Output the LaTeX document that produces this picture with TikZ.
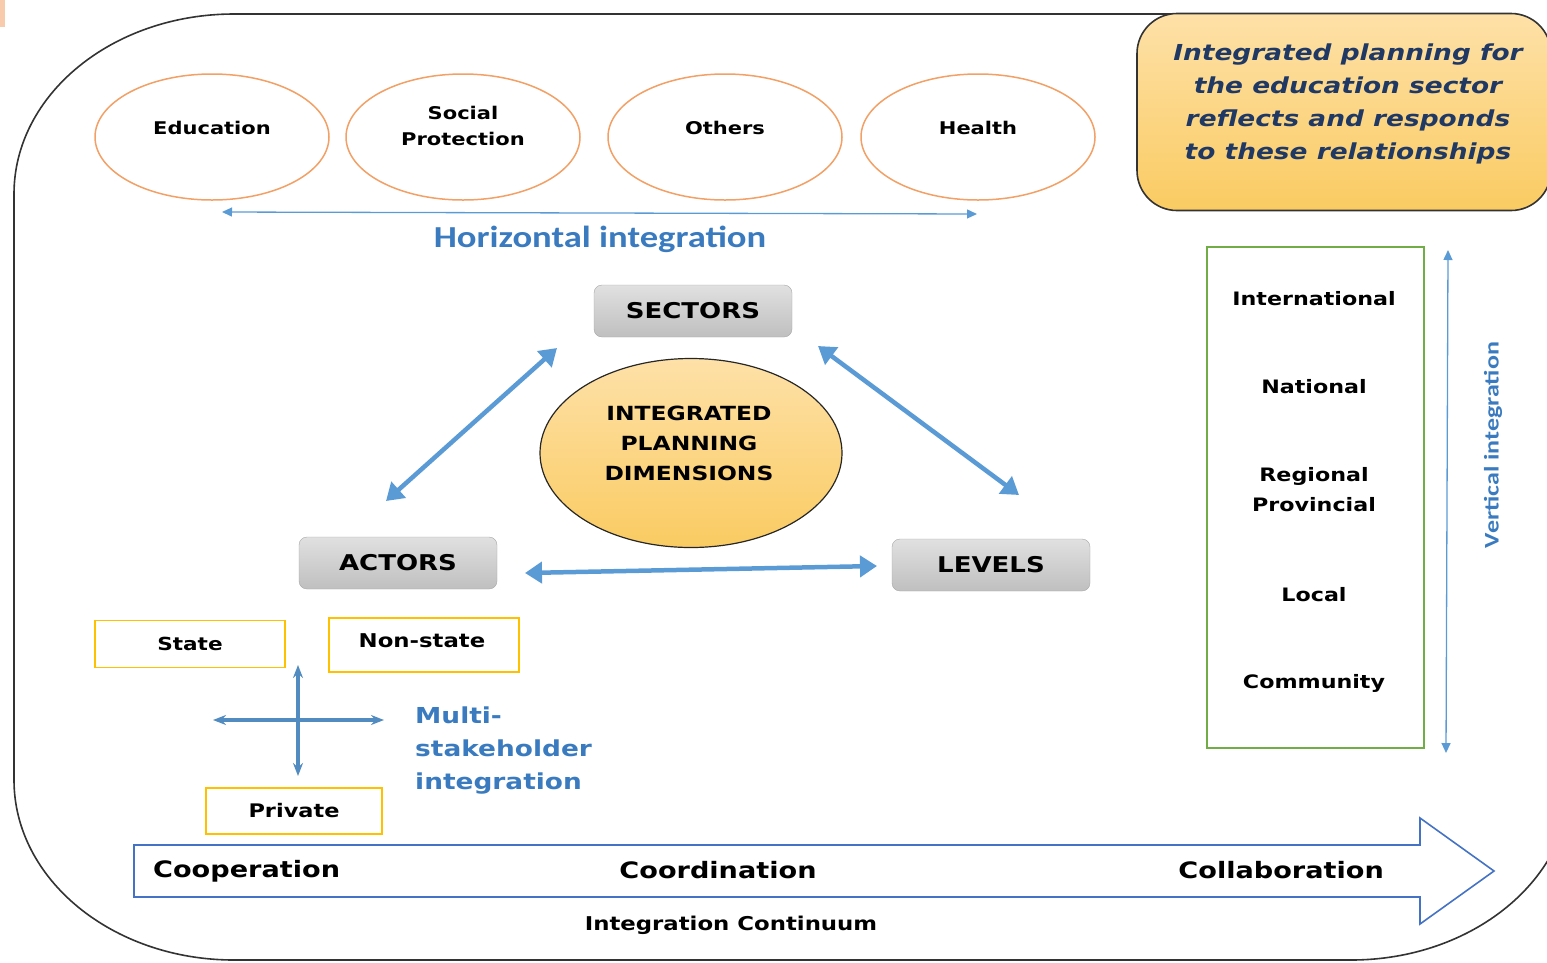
\documentclass[tikz,border=0pt]{standalone}
\usepackage{fontspec}
\setmainfont{DejaVu Sans}
\newfontfamily\vf[FakeStretch=1.2]{DejaVu Sans}
\newfontfamily\cf[FakeStretch=1.2]{Carlito}
\newfontfamily\cn{Carlito}
\usetikzlibrary{arrows.meta,shapes.geometric}
\definecolor{ellorange}{HTML}{F2A065}
\definecolor{arrblue}{HTML}{5B9BD5}
\definecolor{txtblue}{HTML}{3A7BC0}
\definecolor{navy}{HTML}{1F3864}
\definecolor{boxyellow}{HTML}{FFC000}
\definecolor{boxgreen}{HTML}{70AD47}
\definecolor{bigblue}{HTML}{4472C4}
\definecolor{peach}{HTML}{F8CBAD}
\definecolor{goldtop}{HTML}{FEE1A8}
\definecolor{goldbot}{HTML}{FACB62}
\tikzset{
  sect/.style={ellipse, draw=ellorange, line width=1.5pt, minimum width=234pt, minimum height=126pt, align=center, font=\vf\bfseries\fontsize{17.5}{26}\selectfont},
  dimbox/.style={draw=black!35, rounded corners=8pt, top color=black!12, bottom color=black!25, minimum width=198pt, minimum height=52pt, font=\vf\bfseries\fontsize{21.7}{25}\selectfont},
  actbox/.style={draw=boxyellow, line width=1.3pt, minimum width=190pt, align=center},
  lvl/.style={align=center, font=\vf\bfseries\fontsize{18.5}{30}\selectfont},
  thick arrow/.style={arrblue, line width=4.5pt, {Triangle[length=17pt,width=21pt]}-{Triangle[length=17pt,width=21pt]}},
  thin arrow/.style={arrblue, line width=1.3pt, {Triangle[length=10pt,width=9pt]}-{Triangle[length=10pt,width=9pt]}},
  cross arrow/.style={arrblue!90!black, line width=3.5pt, {Stealth[length=13pt,width=10pt]}-{Stealth[length=13pt,width=10pt]}},
  bluetxt/.style={text=txtblue, font=\vf\bfseries\fontsize{22}{33}\selectfont},
  contlbl/.style={font=\vf\bfseries\fontsize{22.6}{26}\selectfont}
}
\begin{document}
\begin{tikzpicture}[x=1pt,y=-1pt]
\useasboundingbox (0,0) rectangle (1547,962);
% corner mark
\fill[peach] (0,0) rectangle (5,27);
% outer frame
\draw[black!80, line width=1.6pt] (234,14) -- (1351,14)
  arc[start angle=-90, end angle=0, x radius=220, y radius=180] -- (1571,780)
  arc[start angle=0, end angle=90, x radius=220, y radius=180] -- (234,960)
  arc[start angle=90, end angle=180, x radius=220, y radius=180] -- (14,194)
  arc[start angle=180, end angle=270, x radius=220, y radius=180] -- cycle;
% summary box
\node[draw=black!80, line width=1.6pt, rounded corners=40pt, top color=goldtop, bottom color=goldbot, minimum width=414pt, minimum height=197pt, text=navy] (summary) at (1344,112) {};
\node[align=center, text=navy, font=\vf\bfseries\itshape\fontsize{22}{33}\selectfont] (summarytxt) at (1348,104)
  {Integrated planning for\\the education sector\\reflects and responds\\to these relationships};
% sector ellipses
\node[sect] (edu) at (212,137) {Education\\[-8pt]};
\node[sect] (soc) at (463,137) {Social\\Protection\\[-4pt]};
\node[sect] (oth) at (725,137) {Others\\[-8pt]};
\node[sect] (hea) at (978,137) {Health\\[-8pt]};
% horizontal integration
\coordinate (hl) at (222,212);
\coordinate (hr) at (977,214);
\draw[thin arrow] (hl) -- (hr);
\node[text=txtblue, font=\cf\bfseries\fontsize{30.5}{34}\selectfont] (hlab) at (600,239) {Horizontal integration};
% dimensions
\node[dimbox] (sectors) at (693,311) {SECTORS};
\node[dimbox] (actors) at (398,563) {ACTORS};
\node[dimbox] (levels) at (991,565) {LEVELS};
\node[ellipse, draw=black!85, line width=1.2pt, top color=goldtop, bottom color=goldbot, minimum width=302pt, minimum height=189pt] (ipd) at (691,453) {};
\node[align=center, font=\vf\bfseries\fontsize{19.5}{30}\selectfont] (ipdtxt) at (689,443)
  {INTEGRATED\\PLANNING\\DIMENSIONS};
\coordinate (sa1) at (557,348);
\coordinate (sa2) at (386,501);
\coordinate (sl1) at (818,346);
\coordinate (sl2) at (1019,495);
\coordinate (al1) at (525,573);
\coordinate (al2) at (877,566);
\draw[thick arrow] (sa1) -- (sa2);
\draw[thick arrow] (sl1) -- (sl2);
\draw[thick arrow] (al1) -- (al2);
% actors
\node[actbox, minimum height=47pt, font=\vf\bfseries\fontsize{18}{20}\selectfont] (state) at (190,644) {State};
\node[actbox, minimum height=54pt] (nonstate) at (424,645) {};
\node[font=\vf\bfseries\fontsize{19}{20}\selectfont] (nonstatetxt) at (422,641) {Non-state};
\node[actbox, minimum width=176pt, minimum height=46pt, font=\vf\bfseries\fontsize{18.7}{20}\selectfont] (private) at (294,811) {Private};
\coordinate (cl) at (213,720);
\coordinate (cr) at (384,720);
\coordinate (ct) at (298,665);
\coordinate (cb) at (298,776);
\draw[cross arrow] (cl) -- (cr);
\draw[cross arrow] (ct) -- (cb);
\node[bluetxt, anchor=west, align=left, inner sep=0pt] (multi) at (415,751) {Multi-\\stakeholder\\integration};
% continuum arrow
\draw[bigblue, line width=1.6pt, line join=miter] (134,845) -- (1420,845) -- (1420,818) -- (1494,871) -- (1420,924) -- (1420,897) -- (134,897) -- cycle;
\node[contlbl, anchor=west, inner sep=0pt] (coop) at (153,871) {Cooperation};
\node[contlbl] (coord) at (718,870) {Coordination};
\node[contlbl, anchor=east, inner sep=0pt] (collab) at (1384,870) {Collaboration};
\node[font=\vf\bfseries\fontsize{19}{22}\selectfont] (cont) at (731,925) {Integration Continuum};
% levels
\draw[boxgreen, line width=1.3pt] (1207,247) rectangle (1424,748);
\node[lvl] (intl) at (1314,299) {International};
\node[lvl] (natl) at (1314,387) {National};
\node[lvl] (reg) at (1314,490) {Regional\\Provincial};
\node[lvl] (loc) at (1314,595) {Local};
\node[lvl] (comm) at (1314,683) {Community};
\coordinate (vt) at (1448,250);
\coordinate (vb) at (1446,753);
\draw[thin arrow] (vt) -- (vb);
\node[text=txtblue, inner sep=0pt] (vlab) at (1493,445) {\rotatebox{90}{\scalebox{1}[0.8]{\cn\bfseries\fontsize{26}{30}\selectfont Vertical integration}}};
\end{tikzpicture}
\end{document}
